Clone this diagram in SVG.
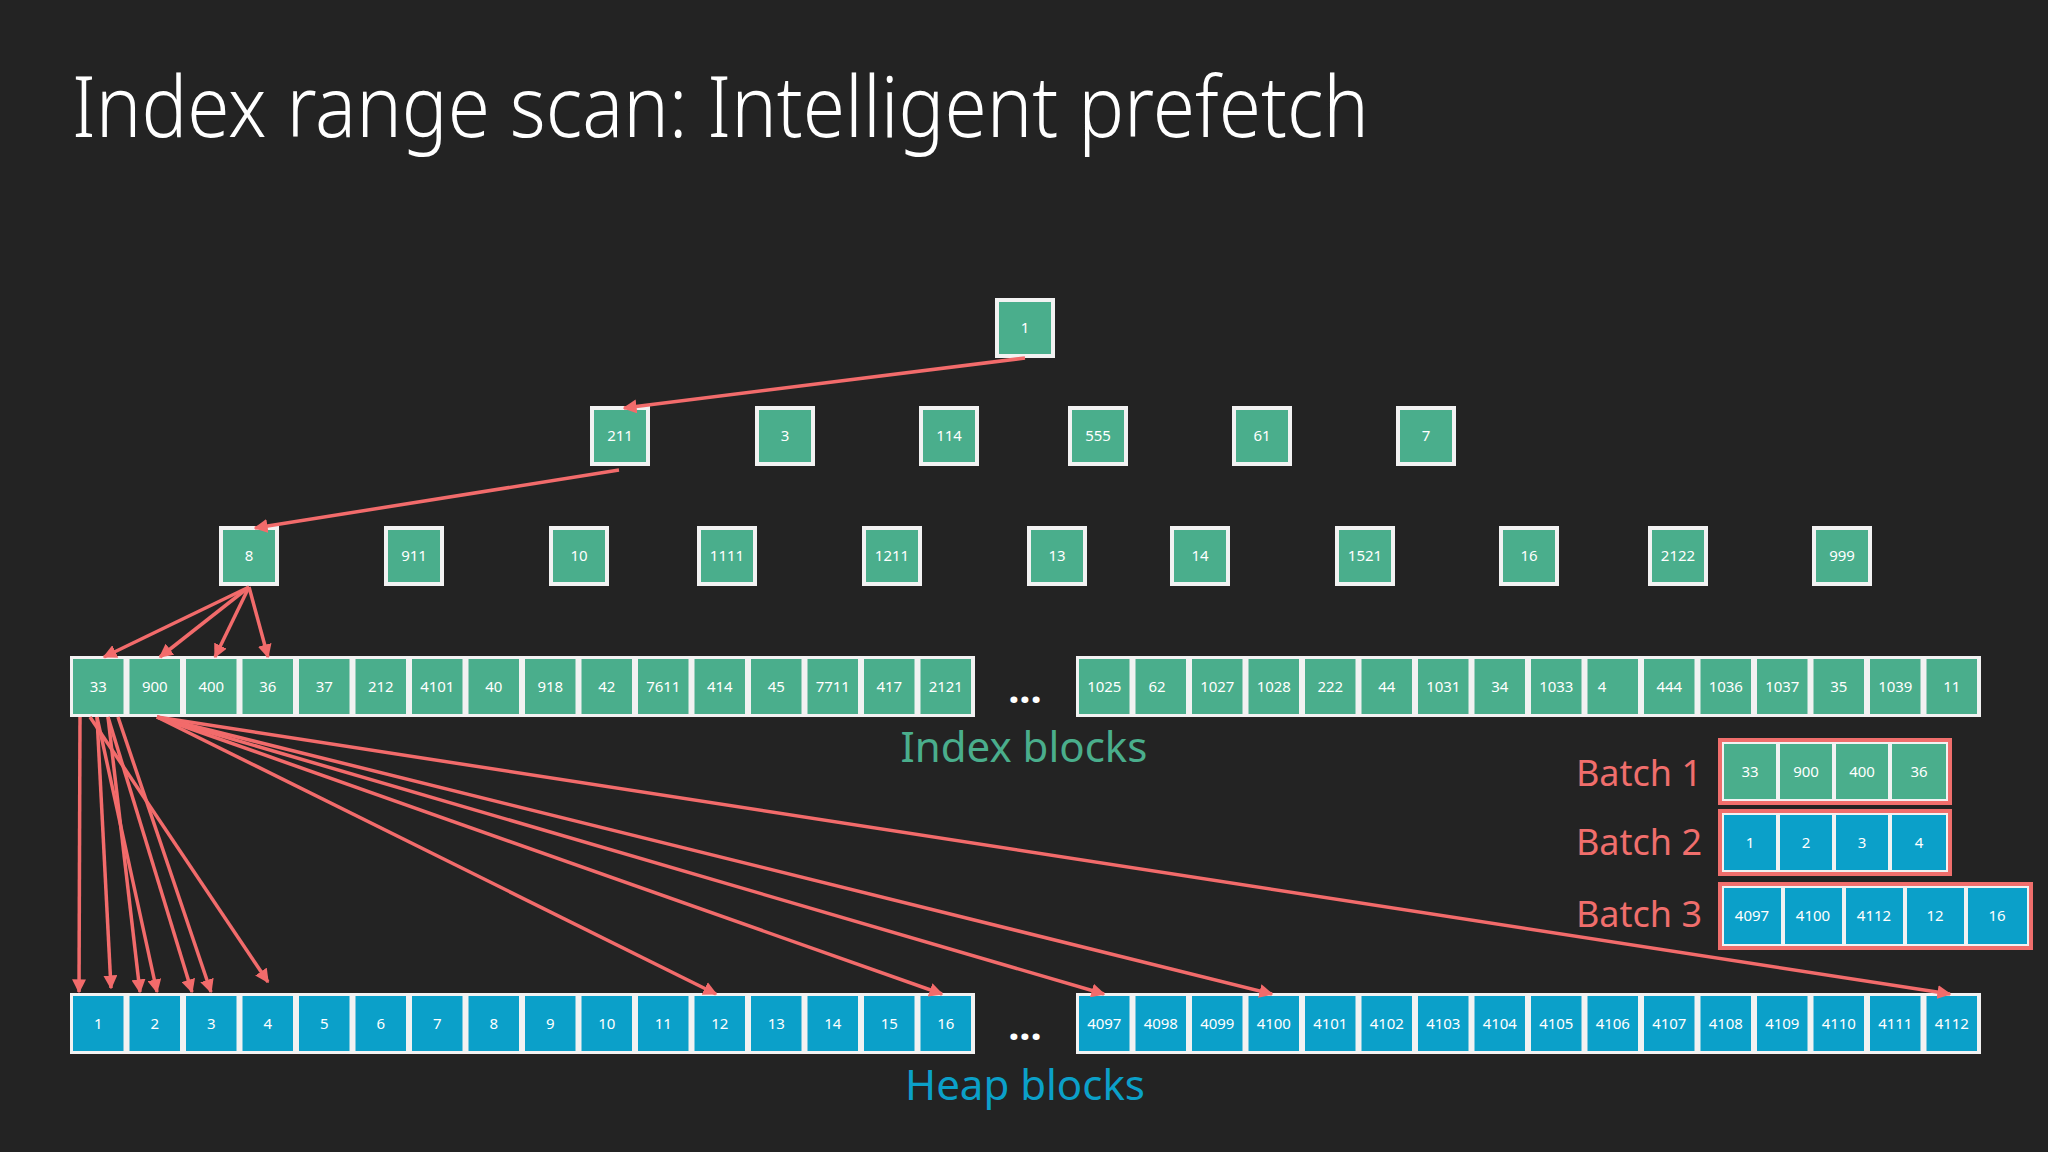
<svg xmlns="http://www.w3.org/2000/svg" xmlns:xlink="http://www.w3.org/1999/xlink" width="2048" height="1152" viewBox="0 0 2048 1152">
<style>
.t{font-family:"Noto Sans","Open Sans",sans-serif;fill:#fff;font-size:15px;text-anchor:middle}
.g{fill:#4aae8c}.b{fill:#0ba0c9}
.w{fill:#f2f2f2}
.bl{font-family:"Noto Sans","Open Sans",sans-serif;fill:#f06e6c;font-size:36px;text-anchor:end}
.c line{stroke:#f26b6b;stroke-width:3.5;marker-end:url(#ah)}
</style>
<defs>
<marker id="ah" viewBox="0 0 10 10" refX="9" refY="5" markerWidth="4" markerHeight="4" orient="auto" markerUnits="strokeWidth"><path d="M0,0L10,5L0,10z" fill="#f26b6b"/></marker>
<rect id="gc" width="50.5" height="55" class="g"/>
<rect id="bc" width="50.5" height="55" class="b"/>
</defs>
<rect width="2048" height="1152" fill="#232323"/>
<text x="72" y="137" font-family="'Noto Sans','Open Sans',sans-serif" font-weight="300" font-size="84" fill="#fff" textLength="1297" lengthAdjust="spacingAndGlyphs">Index range scan: Intelligent prefetch</text>

<g id="tree">
<g id="n1"><rect x="995" y="298" width="60" height="60" class="w"/><rect x="999" y="302" width="52" height="52" class="g"/><text x="1025" y="333" class="t">1</text></g>
<g id="l2">
<rect x="590" y="406" width="60" height="60" class="w"/><rect x="594" y="410" width="52" height="52" class="g"/><text x="620" y="441" class="t">211</text>
<rect x="755" y="406" width="60" height="60" class="w"/><rect x="759" y="410" width="52" height="52" class="g"/><text x="785" y="441" class="t">3</text>
<rect x="919" y="406" width="60" height="60" class="w"/><rect x="923" y="410" width="52" height="52" class="g"/><text x="949" y="441" class="t">114</text>
<rect x="1068" y="406" width="60" height="60" class="w"/><rect x="1072" y="410" width="52" height="52" class="g"/><text x="1098" y="441" class="t">555</text>
<rect x="1232" y="406" width="60" height="60" class="w"/><rect x="1236" y="410" width="52" height="52" class="g"/><text x="1262" y="441" class="t">61</text>
<rect x="1396" y="406" width="60" height="60" class="w"/><rect x="1400" y="410" width="52" height="52" class="g"/><text x="1426" y="441" class="t">7</text>
</g>
<g id="l3">
<rect x="219" y="526" width="60" height="60" class="w"/><rect x="223" y="530" width="52" height="52" class="g"/><text x="249" y="561" class="t">8</text>
<rect x="384" y="526" width="60" height="60" class="w"/><rect x="388" y="530" width="52" height="52" class="g"/><text x="414" y="561" class="t">911</text>
<rect x="549" y="526" width="60" height="60" class="w"/><rect x="553" y="530" width="52" height="52" class="g"/><text x="579" y="561" class="t">10</text>
<rect x="697" y="526" width="60" height="60" class="w"/><rect x="701" y="530" width="52" height="52" class="g"/><text x="727" y="561" class="t">1111</text>
<rect x="862" y="526" width="60" height="60" class="w"/><rect x="866" y="530" width="52" height="52" class="g"/><text x="892" y="561" class="t">1211</text>
<rect x="1027" y="526" width="60" height="60" class="w"/><rect x="1031" y="530" width="52" height="52" class="g"/><text x="1057" y="561" class="t">13</text>
<rect x="1170" y="526" width="60" height="60" class="w"/><rect x="1174" y="530" width="52" height="52" class="g"/><text x="1200" y="561" class="t">14</text>
<rect x="1335" y="526" width="60" height="60" class="w"/><rect x="1339" y="530" width="52" height="52" class="g"/><text x="1365" y="561" class="t">1521</text>
<rect x="1499" y="526" width="60" height="60" class="w"/><rect x="1503" y="530" width="52" height="52" class="g"/><text x="1529" y="561" class="t">16</text>
<rect x="1648" y="526" width="60" height="60" class="w"/><rect x="1652" y="530" width="52" height="52" class="g"/><text x="1678" y="561" class="t">2122</text>
<rect x="1812" y="526" width="60" height="60" class="w"/><rect x="1816" y="530" width="52" height="52" class="g"/><text x="1842" y="561" class="t">999</text>
</g>
</g>

<g id="index-row-1">
<rect x="70" y="656" width="905" height="61" class="w"/>
<use href="#gc" x="73" y="659"/><use href="#gc" x="129.5" y="659"/><use href="#gc" x="186" y="659"/><use href="#gc" x="242.5" y="659"/><use href="#gc" x="299" y="659"/><use href="#gc" x="355.5" y="659"/><use href="#gc" x="412" y="659"/><use href="#gc" x="468.5" y="659"/><use href="#gc" x="525" y="659"/><use href="#gc" x="581.5" y="659"/><use href="#gc" x="638" y="659"/><use href="#gc" x="694.5" y="659"/><use href="#gc" x="751" y="659"/><use href="#gc" x="807.5" y="659"/><use href="#gc" x="864" y="659"/><use href="#gc" x="920.5" y="659"/>
<g class="t">
<text x="98.3" y="692">33</text><text x="154.8" y="692">900</text><text x="211.3" y="692">400</text><text x="267.8" y="692">36</text><text x="324.3" y="692">37</text><text x="380.8" y="692">212</text><text x="437.3" y="692">4101</text><text x="493.8" y="692">40</text><text x="550.3" y="692">918</text><text x="606.8" y="692">42</text><text x="663.3" y="692">7611</text><text x="719.8" y="692">414</text><text x="776.3" y="692">45</text><text x="832.8" y="692">7711</text><text x="889.3" y="692">417</text><text x="945.8" y="692">2121</text>
</g>
</g>
<g id="index-row-2">
<rect x="1076" y="656" width="905" height="61" class="w"/>
<use href="#gc" x="1079" y="659"/><use href="#gc" x="1135.5" y="659"/><use href="#gc" x="1192" y="659"/><use href="#gc" x="1248.5" y="659"/><use href="#gc" x="1305" y="659"/><use href="#gc" x="1361.5" y="659"/><use href="#gc" x="1418" y="659"/><use href="#gc" x="1474.5" y="659"/><use href="#gc" x="1531" y="659"/><use href="#gc" x="1587.5" y="659"/><use href="#gc" x="1644" y="659"/><use href="#gc" x="1700.5" y="659"/><use href="#gc" x="1757" y="659"/><use href="#gc" x="1813.5" y="659"/><use href="#gc" x="1870" y="659"/><use href="#gc" x="1926.5" y="659"/>
<g class="t">
<text x="1104.3" y="692">1025</text><text x="1157" y="692">62</text><text x="1217.3" y="692">1027</text><text x="1273.8" y="692">1028</text><text x="1330.3" y="692">222</text><text x="1386.8" y="692">44</text><text x="1443.3" y="692">1031</text><text x="1499.8" y="692">34</text><text x="1556.3" y="692">1033</text><text x="1602" y="692">4</text><text x="1669.3" y="692">444</text><text x="1725.8" y="692">1036</text><text x="1782.3" y="692">1037</text><text x="1838.8" y="692">35</text><text x="1895.3" y="692">1039</text><text x="1951.8" y="692">11</text>
</g>
</g>
<text x="1025" y="703" font-family="'Noto Sans',sans-serif" font-size="40" fill="#fff" text-anchor="middle" font-weight="bold">...</text>
<text x="1024" y="762" font-family="'Noto Sans',sans-serif" font-size="42" fill="#4aae8c" text-anchor="middle">Index blocks</text>

<g id="heap-row-1">
<rect x="70" y="993" width="905" height="61" class="w"/>
<use href="#bc" x="73" y="996"/><use href="#bc" x="129.5" y="996"/><use href="#bc" x="186" y="996"/><use href="#bc" x="242.5" y="996"/><use href="#bc" x="299" y="996"/><use href="#bc" x="355.5" y="996"/><use href="#bc" x="412" y="996"/><use href="#bc" x="468.5" y="996"/><use href="#bc" x="525" y="996"/><use href="#bc" x="581.5" y="996"/><use href="#bc" x="638" y="996"/><use href="#bc" x="694.5" y="996"/><use href="#bc" x="751" y="996"/><use href="#bc" x="807.5" y="996"/><use href="#bc" x="864" y="996"/><use href="#bc" x="920.5" y="996"/>
<g class="t">
<text x="98.3" y="1029">1</text><text x="154.8" y="1029">2</text><text x="211.3" y="1029">3</text><text x="267.8" y="1029">4</text><text x="324.3" y="1029">5</text><text x="380.8" y="1029">6</text><text x="437.3" y="1029">7</text><text x="493.8" y="1029">8</text><text x="550.3" y="1029">9</text><text x="606.8" y="1029">10</text><text x="663.3" y="1029">11</text><text x="719.8" y="1029">12</text><text x="776.3" y="1029">13</text><text x="832.8" y="1029">14</text><text x="889.3" y="1029">15</text><text x="945.8" y="1029">16</text>
</g>
</g>
<g id="heap-row-2">
<rect x="1076" y="993" width="905" height="61" class="w"/>
<use href="#bc" x="1079" y="996"/><use href="#bc" x="1135.5" y="996"/><use href="#bc" x="1192" y="996"/><use href="#bc" x="1248.5" y="996"/><use href="#bc" x="1305" y="996"/><use href="#bc" x="1361.5" y="996"/><use href="#bc" x="1418" y="996"/><use href="#bc" x="1474.5" y="996"/><use href="#bc" x="1531" y="996"/><use href="#bc" x="1587.5" y="996"/><use href="#bc" x="1644" y="996"/><use href="#bc" x="1700.5" y="996"/><use href="#bc" x="1757" y="996"/><use href="#bc" x="1813.5" y="996"/><use href="#bc" x="1870" y="996"/><use href="#bc" x="1926.5" y="996"/>
<g class="t">
<text x="1104.3" y="1029">4097</text><text x="1160.8" y="1029">4098</text><text x="1217.3" y="1029">4099</text><text x="1273.8" y="1029">4100</text><text x="1330.3" y="1029">4101</text><text x="1386.8" y="1029">4102</text><text x="1443.3" y="1029">4103</text><text x="1499.8" y="1029">4104</text><text x="1556.3" y="1029">4105</text><text x="1612.8" y="1029">4106</text><text x="1669.3" y="1029">4107</text><text x="1725.8" y="1029">4108</text><text x="1782.3" y="1029">4109</text><text x="1838.8" y="1029">4110</text><text x="1895.3" y="1029">4111</text><text x="1951.8" y="1029">4112</text>
</g>
</g>
<text x="1025" y="1040" font-family="'Noto Sans',sans-serif" font-size="40" fill="#fff" text-anchor="middle" font-weight="bold">...</text>
<text x="1025" y="1100" font-family="'Noto Sans',sans-serif" font-size="42" fill="#0ba0c9" text-anchor="middle">Heap blocks</text>

<g id="batch1">
<text x="1702" y="786" class="bl">Batch 1</text>
<rect x="1720" y="740" width="230" height="63" fill="#f2f2f2" stroke="#f06e6c" stroke-width="4"/>
<rect x="1724" y="744" width="52" height="55" class="g"/><rect x="1780" y="744" width="52" height="55" class="g"/><rect x="1836" y="744" width="52" height="55" class="g"/><rect x="1892" y="744" width="54" height="55" class="g"/>
<g class="t"><text x="1750" y="777">33</text><text x="1806" y="777">900</text><text x="1862" y="777">400</text><text x="1919" y="777">36</text></g>
</g>
<g id="batch2">
<text x="1702" y="855" class="bl">Batch 2</text>
<rect x="1720" y="811" width="230" height="63" fill="#f2f2f2" stroke="#f06e6c" stroke-width="4"/>
<rect x="1724" y="815" width="52" height="55" class="b"/><rect x="1780" y="815" width="52" height="55" class="b"/><rect x="1836" y="815" width="52" height="55" class="b"/><rect x="1892" y="815" width="54" height="55" class="b"/>
<g class="t"><text x="1750" y="848">1</text><text x="1806" y="848">2</text><text x="1862" y="848">3</text><text x="1919" y="848">4</text></g>
</g>
<g id="batch3">
<text x="1702" y="927" class="bl">Batch 3</text>
<rect x="1720" y="884" width="311" height="64" fill="#f2f2f2" stroke="#f06e6c" stroke-width="4"/>
<rect x="1724" y="888" width="57" height="56" class="b"/><rect x="1785" y="888" width="57" height="56" class="b"/><rect x="1846" y="888" width="57" height="56" class="b"/><rect x="1907" y="888" width="57" height="56" class="b"/><rect x="1968" y="888" width="59" height="56" class="b"/>
<g class="t"><text x="1752" y="921">4097</text><text x="1813" y="921">4100</text><text x="1874" y="921">4112</text><text x="1935" y="921">12</text><text x="1997" y="921">16</text></g>
</g>

<g id="connectors" class="c">
<line x1="1025" y1="358" x2="624" y2="408"/>
<line x1="619" y1="470" x2="255" y2="528"/>
<line x1="249" y1="587" x2="104" y2="657"/>
<line x1="249" y1="587" x2="160" y2="657"/>
<line x1="249" y1="587" x2="215" y2="657"/>
<line x1="249" y1="587" x2="268" y2="657"/>
<line x1="80" y1="717" x2="79" y2="992"/>
<line x1="97" y1="717" x2="111" y2="988"/>
<line x1="97" y1="717" x2="157" y2="992"/>
<line x1="108" y1="717" x2="140" y2="992"/>
<line x1="108" y1="717" x2="192" y2="992"/>
<line x1="118" y1="717" x2="211" y2="992"/>
<line x1="90" y1="717" x2="268" y2="982"/>
<line x1="157" y1="717" x2="716" y2="994"/>
<line x1="157" y1="717" x2="942" y2="994"/>
<line x1="157" y1="717" x2="1104" y2="994"/>
<line x1="157" y1="717" x2="1272" y2="994"/>
<line x1="157" y1="717" x2="1950" y2="994"/>
</g>
</svg>
